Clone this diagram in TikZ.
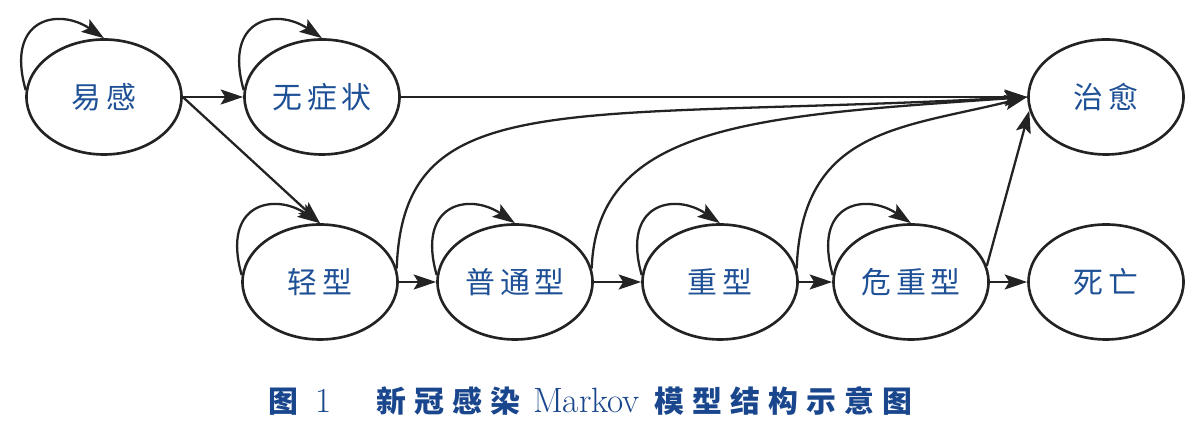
\documentclass[tikz,border=0pt]{standalone}
\usepackage{fontspec}
\usepackage{xcolor}
\usepackage{tikz}
\newfontfamily\cjk{Noto Sans CJK SC}[LetterSpace=15]
\newfontfamily\capcjk{Noto Sans CJK SC}[LetterSpace=27]
\definecolor{stateblue}{RGB}{30, 80, 150}
\definecolor{captionblue}{RGB}{25, 70, 140}
\definecolor{edgegray}{RGB}{35, 35, 35}
\usetikzlibrary{shapes.geometric, arrows.meta}

\tikzset{
    state/.style={ellipse, draw=edgegray, line width=1.5pt, minimum width=3.1cm,
                  minimum height=2.3cm, inner sep=0pt, text=stateblue,
                  font={\cjk\fontsize{17}{20}\selectfont}},
    trans/.style={-{Stealth[length=4.5mm, width=3mm, inset=0.9mm]}, draw=edgegray, line width=1.3pt},
    capzh/.style={font={\capcjk\fontsize{17}{20}\selectfont\bfseries}}
}

\begin{document}
\begin{tikzpicture}
    \useasboundingbox (0,0) rectangle (24,8.58);

    % states
    \node[state] (suscept) at (2.08,6.64) {易感};
    \node[state] (asym) at (6.44,6.64) {无症状};
    \node[state] (cured) at (22.12,6.64) {治愈};
    \node[state] (mild) at (6.40,2.94) {轻型};
    \node[state] (common) at (10.30,2.94) {普通型};
    \node[state] (severe) at (14.40,2.94) {重型};
    \node[state] (critical) at (18.22,2.94) {危重型};
    \node[state] (death) at (22.12,2.94) {死亡};

    % stay in the same state
    \foreach \s in {suscept, asym, mild, common, severe, critical}
        \draw[trans] (\s.175) .. controls +(106:1.5) and +(146:1.1) .. (\s.north);

    % transitions
    \draw[trans] (suscept.east) -- (asym.west);
    \draw[trans] (suscept.east) -- (mild.north);
    \draw[trans] (asym.east) -- (cured.west);
    \draw[trans] (mild.east) -- (common.west);
    \draw[trans] (common.east) -- (severe.west);
    \draw[trans] (severe.east) -- (critical.west);
    \draw[trans] (critical.east) -- (death.west);
    \draw[trans] (mild.10) .. controls +(88:3.7) and +(183:9.3) .. (cured.west);
    \draw[trans] (common.10) .. controls +(88:2.9) and +(184:5.4) .. (cured.west);
    \draw[trans] (severe.10) .. controls +(88:2.8) and +(194:2.6) .. (cured.west);
    \draw[trans] (critical.12) -- (cured.190);

    \node[anchor=base west, inner sep=0pt, text=captionblue] (caption) at (5.36,0.32)
        {{\capcjk\fontsize{17}{20}\selectfont\bfseries 图}\hspace{0.35cm}{\fontsize{20}{24}\selectfont 1}\hspace{0.9cm}{\capcjk\fontsize{17}{20}\selectfont\bfseries 新冠感染}\hspace{0.25cm}{\fontsize{20}{24}\selectfont Markov}\hspace{0.3cm}{\capcjk\fontsize{17}{20}\selectfont\bfseries 模型结构示意图}};
\end{tikzpicture}
\end{document}
